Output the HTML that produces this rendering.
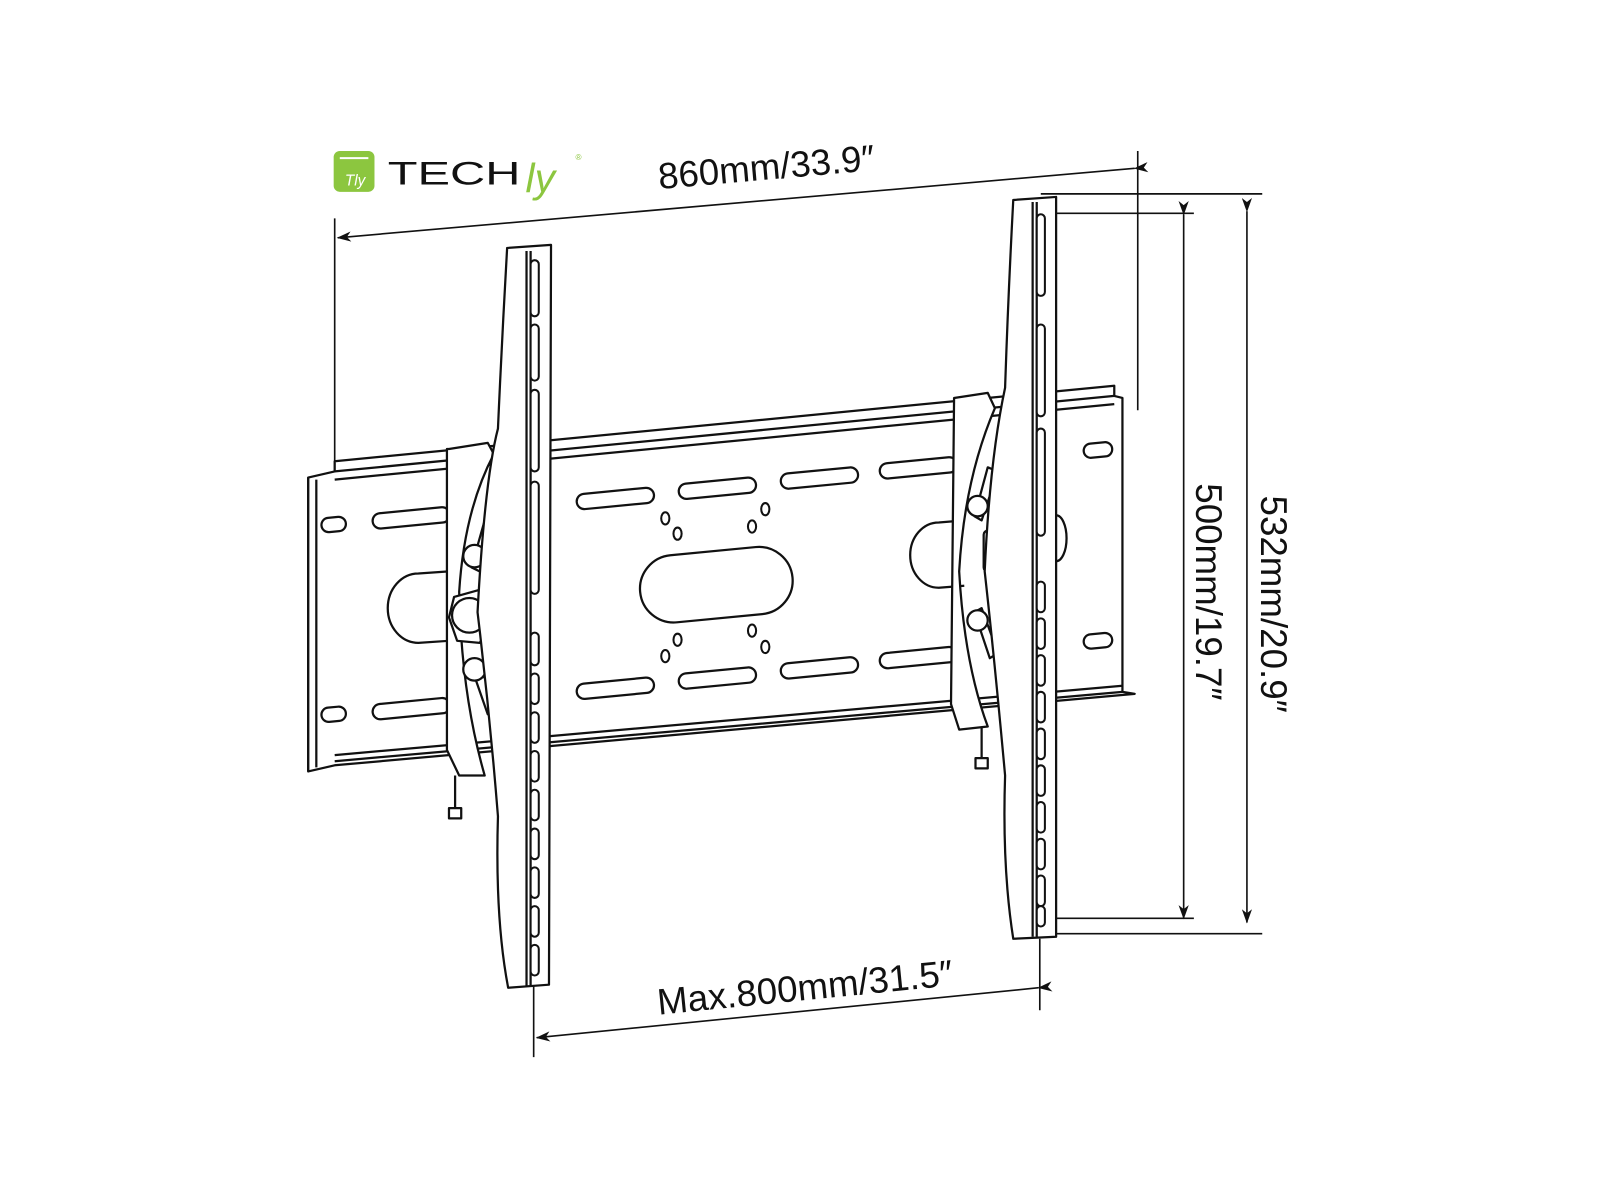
<!DOCTYPE html>
<html><head><meta charset="utf-8"><style>
html,body{margin:0;padding:0;background:#fff;}
svg{display:block}
text{font-family:"Liberation Sans",sans-serif;}
</style></head><body>
<svg width="1600" height="1200" viewBox="0 0 1600 1200" xmlns="http://www.w3.org/2000/svg">
<defs>
<marker id="ar" markerWidth="14" markerHeight="10" refX="13" refY="5" orient="auto" markerUnits="userSpaceOnUse">
<path d="M0,0 L14,5 L0,10 L4,5 Z" fill="#111"/></marker>
</defs>
<g transform="scale(1.0204)">
<!-- logo -->
<rect x="327" y="148" width="40" height="40" rx="6" fill="#8cc63f"/>
<line x1="333" y1="155" x2="361" y2="155" stroke="#fff" stroke-width="2"/>
<text x="338" y="182" font-size="15" fill="#fff" font-style="italic">Tly</text>
<text x="380" y="181" font-size="32" fill="#111" font-weight="normal" textLength="130" lengthAdjust="spacingAndGlyphs">TECH</text>
<text x="515" y="188" font-size="40" fill="#8cc63f" font-style="italic">ly</text>
<text x="564" y="157" font-size="8" fill="#8cc63f">®</text>

<g stroke="#111" fill="none" stroke-width="1.6">
<line x1="328" y1="214" x2="328" y2="462"/>
<line x1="1115" y1="148" x2="1115" y2="402"/>
<line x1="1020" y1="190" x2="1237" y2="190"/>
<line x1="1020" y1="915" x2="1237" y2="915"/>
<line x1="1020" y1="209" x2="1170" y2="209"/>
<line x1="1020" y1="900" x2="1170" y2="900"/>
<line x1="523" y1="960" x2="523" y2="1036"/>
<line x1="1019" y1="920" x2="1019" y2="990"/>
<line x1="1112" y1="165" x2="331" y2="233" marker-end="url(#ar)" marker-start="url(#ar)"/>
<line x1="1160" y1="210" x2="1160" y2="900" marker-end="url(#ar)" marker-start="url(#ar)"/>
<line x1="1222" y1="207" x2="1222" y2="904" marker-end="url(#ar)" marker-start="url(#ar)"/>
<line x1="1018" y1="968" x2="526" y2="1017" marker-end="url(#ar)" marker-start="url(#ar)"/>
</g>
<g fill="#111" font-size="36">
<text x="752" y="176" text-anchor="middle" transform="rotate(-5 752 176)">860mm/33.9″</text>
<text x="790" y="980" text-anchor="middle" transform="rotate(-5.7 790 980)">Max.800mm/31.5″</text>
<text x="1172" y="580" text-anchor="middle" transform="rotate(90 1172 580)">500mm/19.7″</text>
<text x="1236" y="592" text-anchor="middle" transform="rotate(90 1236 592)">532mm/20.9″</text>
</g>

<g stroke="#111" fill="#fff" stroke-width="2.2" stroke-linejoin="round">
<path d="M302,468 L328,462 L328,452 L1092,378 L1092,388 L1100,390 L1100,678 L1112,680 L328,750 L302,756 Z"/>
<path d="M328,462 L1092,388 M328,470 L1092,396 M328,740 L1100,672 M328,746 L1100,678" fill="none"/>
<path d="M302,468 L302,756 M310,470 L310,752" fill="none"/>
<g>
<rect x="315" y="507" width="24" height="14" rx="7" transform="rotate(-5.5 327 514)"/>
<rect x="365" y="500" width="76" height="15" rx="7.5" transform="rotate(-5.5 403 507)"/>
<rect x="565" y="481" width="76" height="15" rx="7.5" transform="rotate(-5.5 603 488)"/>
<rect x="665" y="471" width="76" height="15" rx="7.5" transform="rotate(-5.5 703 478)"/>
<rect x="765" y="461" width="76" height="15" rx="7.5" transform="rotate(-5.5 803 468)"/>
<rect x="862" y="451" width="76" height="15" rx="7.5" transform="rotate(-5.5 900 458)"/>
<rect x="1062" y="434" width="28" height="14" rx="7" transform="rotate(-5.5 1076 441)"/>
<rect x="315" y="693" width="24" height="14" rx="7" transform="rotate(-5.5 327 700)"/>
<rect x="365" y="687" width="76" height="15" rx="7.5" transform="rotate(-5.5 403 694)"/>
<rect x="565" y="667" width="76" height="15" rx="7.5" transform="rotate(-5.5 603 674)"/>
<rect x="665" y="657" width="76" height="15" rx="7.5" transform="rotate(-5.5 703 664)"/>
<rect x="765" y="647" width="76" height="15" rx="7.5" transform="rotate(-5.5 803 654)"/>
<rect x="862" y="637" width="76" height="15" rx="7.5" transform="rotate(-5.5 900 644)"/>
<rect x="1062" y="621" width="28" height="14" rx="7" transform="rotate(-5.5 1076 628)"/>
</g>
<rect x="627" y="540" width="150" height="66" rx="33" transform="rotate(-5.5 702 573)"/>
<g stroke-width="2">
<ellipse cx="652" cy="508" rx="4" ry="6"/><ellipse cx="664" cy="523" rx="4" ry="6"/>
<ellipse cx="737" cy="516" rx="4" ry="6"/><ellipse cx="750" cy="499" rx="4" ry="6"/>
<ellipse cx="664" cy="627" rx="4" ry="6"/><ellipse cx="652" cy="643" rx="4" ry="6"/>
<ellipse cx="737" cy="618" rx="4" ry="6"/><ellipse cx="750" cy="634" rx="4" ry="6"/>
</g>
<path d="M440,560 L410,562 A30,34 0 0 0 410,630 L440,628" />
<path d="M945,510 L920,512 A28,32 0 0 0 920,576 L945,574"/>
<path d="M1035,505 A10,22 0 0 1 1035,550" fill="none"/>

<path d="M440,440 L478,434 L484,445 Q455,500 450,580 Q452,680 475,760 L450,760 L438,735 L438,440 Z"/>
<line x1="446" y1="760" x2="446" y2="795"/><rect x="440" y="792" width="12" height="10"/>
<path d="M475,510 L486,516 L470,560 L462,556 Z M470,650 L462,654 L478,700 L486,696 Z"/>
<circle cx="465" cy="545" r="11"/><circle cx="465" cy="656" r="11"/>
<path d="M445,585 L470,578 L484,592 L482,615 L470,630 L448,628 L440,605 Z"/>
<circle cx="460" cy="603" r="17"/>
<path d="M497,243 L540,240 L538,965 L498,968 Q485,900 488,800 Q480,700 468,600 Q475,470 488,420 Q492,330 497,243 Z"/>
<line x1="516" y1="246" x2="516" y2="966" fill="none"/>
<line x1="520" y1="246" x2="520" y2="966" fill="none"/>
<g stroke-width="2">
<rect x="520" y="255" width="8" height="55" rx="4"/>
<rect x="520" y="318" width="8" height="55" rx="4"/>
<rect x="520" y="382" width="8" height="80" rx="4"/>
<rect x="520" y="472" width="8" height="110" rx="4"/>
<rect x="520" y="620" width="8" height="32" rx="4"/>
<rect x="520" y="660" width="8" height="30" rx="4"/>
<rect x="520" y="698" width="8" height="30" rx="4"/>
<rect x="520" y="736" width="8" height="30" rx="4"/>
<rect x="520" y="774" width="8" height="30" rx="4"/>
<rect x="520" y="812" width="8" height="30" rx="4"/>
<rect x="520" y="850" width="8" height="30" rx="4"/>
<rect x="520" y="888" width="8" height="30" rx="4"/>
<rect x="520" y="926" width="8" height="30" rx="4"/>
</g>

<path d="M935,390 L968,385 L975,400 Q945,470 940,560 Q945,650 968,712 L940,715 L932,690 L935,390 Z"/>
<line x1="962" y1="712" x2="962" y2="745"/><rect x="956" y="743" width="12" height="10"/>
<path d="M968,458 L978,462 L962,510 L955,506 Z M955,600 L962,596 L978,640 L970,645 Z"/>
<circle cx="958" cy="496" r="10"/><circle cx="958" cy="608" r="10"/>
<rect x="964" y="520" width="8" height="40" rx="4"/>
<path d="M993,196 L1035,193 L1035,918 L993,920 Q982,850 985,760 Q975,650 965,560 Q970,450 985,380 Q988,290 993,196 Z"/>
<line x1="1012" y1="198" x2="1012" y2="918" fill="none"/>
<line x1="1016" y1="198" x2="1016" y2="918" fill="none"/>
<g stroke-width="2">
<rect x="1016" y="210" width="8" height="80" rx="4"/>
<rect x="1016" y="318" width="8" height="90" rx="4"/>
<rect x="1016" y="420" width="8" height="105" rx="4"/>
<rect x="1016" y="570" width="8" height="30" rx="4"/>
<rect x="1016" y="606" width="8" height="30" rx="4"/>
<rect x="1016" y="642" width="8" height="30" rx="4"/>
<rect x="1016" y="678" width="8" height="30" rx="4"/>
<rect x="1016" y="714" width="8" height="30" rx="4"/>
<rect x="1016" y="750" width="8" height="30" rx="4"/>
<rect x="1016" y="786" width="8" height="30" rx="4"/>
<rect x="1016" y="822" width="8" height="30" rx="4"/>
<rect x="1016" y="858" width="8" height="30" rx="4"/>
<rect x="1016" y="888" width="8" height="20" rx="4"/>
</g>
</g>
</g>
</svg>
</body></html>
